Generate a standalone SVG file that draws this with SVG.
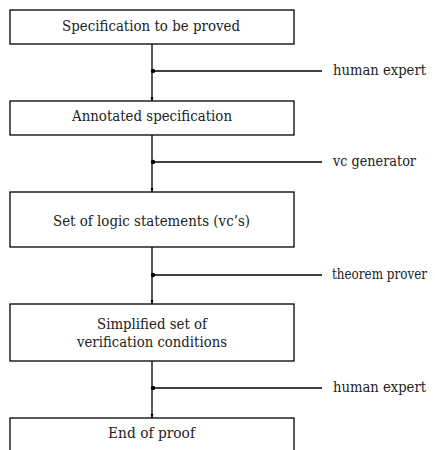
<svg xmlns="http://www.w3.org/2000/svg" width="435" height="450" viewBox="0 0 435 450">
<style>
.box{fill:#fff;stroke:#000;stroke-width:1.3}
.t{font-family:"DejaVu Serif","Liberation Serif",serif;font-size:15px;fill:#222;text-anchor:middle}
.l{font-family:"DejaVu Serif","Liberation Serif",serif;font-size:14.5px;fill:#222}
.c{stroke:#000;stroke-width:1.3;fill:none}
</style>
<defs>
<marker id="ah" markerWidth="4" markerHeight="4" refX="4" refY="2" orient="auto" markerUnits="userSpaceOnUse">
<path d="M0,0.5 L4,2 L0,3.5 Z" fill="#000"/>
</marker>
</defs>
<rect width="435" height="450" fill="#fff"/>
<g id="connectors">
<line class="c" x1="152" y1="44" x2="152" y2="101" marker-end="url(#ah)"/>
<line class="c" x1="152" y1="135" x2="152" y2="192" marker-end="url(#ah)"/>
<line class="c" x1="152" y1="247" x2="152" y2="304" marker-end="url(#ah)"/>
<line class="c" x1="152" y1="361" x2="152" y2="418" marker-end="url(#ah)"/>
<line class="c" x1="152" y1="71" x2="322" y2="71"/>
<line class="c" x1="152" y1="162" x2="322" y2="162"/>
<line class="c" x1="152" y1="275" x2="322" y2="275"/>
<line class="c" x1="152" y1="388" x2="322" y2="388"/>
<circle cx="153" cy="71" r="2.2" fill="#000"/>
<circle cx="153" cy="162" r="2.2" fill="#000"/>
<circle cx="153" cy="275" r="2.2" fill="#000"/>
<circle cx="153" cy="388" r="2.2" fill="#000"/>
</g>
<g id="n1"><rect class="box" x="10" y="10" width="284" height="34"/><text class="t" x="151" y="31" textLength="178" lengthAdjust="spacingAndGlyphs">Specification to be proved</text></g>
<g id="n2"><rect class="box" x="10" y="101" width="284" height="34"/><text class="t" x="152" y="121" textLength="160" lengthAdjust="spacingAndGlyphs">Annotated specification</text></g>
<g id="n3"><rect class="box" x="10" y="192" width="284" height="55"/><text class="t" x="151.5" y="226" textLength="197" lengthAdjust="spacingAndGlyphs">Set of logic statements (vc’s)</text></g>
<g id="n4"><rect class="box" x="10" y="304" width="284" height="57"/><text class="t" x="152" y="329" textLength="110" lengthAdjust="spacingAndGlyphs">Simplified set of</text><text class="t" x="152" y="347" textLength="150" lengthAdjust="spacingAndGlyphs">verification conditions</text></g>
<g id="n5"><rect class="box" x="10" y="418" width="284" height="40"/><text class="t" x="151.5" y="438" textLength="87" lengthAdjust="spacingAndGlyphs">End of proof</text></g>
<g id="labels">
<text class="l" x="333" y="75" textLength="93" lengthAdjust="spacingAndGlyphs">human expert</text>
<text class="l" x="333" y="166" textLength="83" lengthAdjust="spacingAndGlyphs">vc generator</text>
<text class="l" x="332" y="279" textLength="95" lengthAdjust="spacingAndGlyphs">theorem prover</text>
<text class="l" x="333" y="392" textLength="93" lengthAdjust="spacingAndGlyphs">human expert</text>
</g>
</svg>
